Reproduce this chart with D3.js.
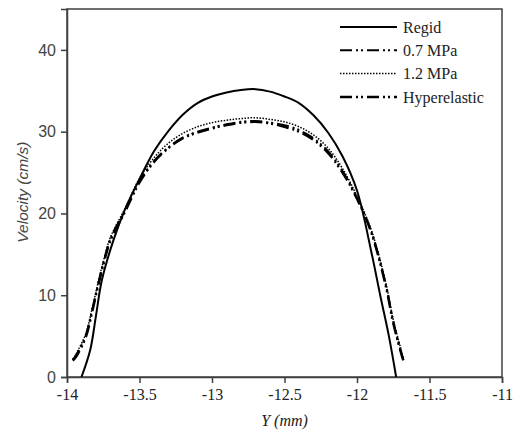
<!DOCTYPE html>
<meta charset="utf-8">
<title>Velocity profile</title>
<script src='https://d3js.org/d3.v7.min.js'></script>
<style>
body {
	margin: 0;
	background: #fff;
}
</style>
<body>
<script>
// Y (mm) positions and velocities (cm/s)
const rigidX = [-13.9, -13.84, -13.8, -13.76, -13.68, -13.6, -13.5, -13.4, -13.3, -13.2, -13.1, -13.0, -12.9, -12.8, -12.7, -12.6, -12.5, -12.4, -12.3, -12.2, -12.1, -12.0, -11.9, -11.84, -11.78, -11.73];
const rigidY = [0, 3.3, 7.5, 11.8, 16.7, 20.5, 24.2, 27.6, 30.1, 32.1, 33.5, 34.3, 34.8, 35.1, 35.2, 34.9, 34.3, 33.5, 32.0, 29.9, 27.0, 22.8, 15.2, 10.0, 5.0, 0];

const elasticX = [-13.96, -13.94, -13.92, -13.87, -13.83, -13.79, -13.75, -13.7, -13.6, -13.5, -13.4, -13.3, -13.2, -13.1, -13.0, -12.9, -12.8, -12.7, -12.6, -12.5, -12.4, -12.3, -12.2, -12.1, -12.0, -11.9, -11.8, -11.75, -11.7, -11.68];
const mpa07Y = [2.1, 2.6, 3.2, 5.1, 7.9, 11.0, 13.9, 16.9, 20.4, 24.0, 26.4, 28.1, 29.3, 30.0, 30.5, 30.9, 31.2, 31.3, 31.1, 30.8, 30.2, 29.2, 27.6, 25.2, 21.9, 17.7, 11.2, 6.8, 3.3, 2.1];
const mpa12Y = [2.2, 2.7, 3.4, 5.3, 8.1, 11.2, 14.1, 17.1, 20.6, 24.3, 26.8, 28.6, 29.8, 30.6, 31.1, 31.4, 31.6, 31.7, 31.5, 31.2, 30.6, 29.6, 28.0, 25.5, 22.1, 17.9, 11.4, 7.0, 3.6, 2.2];
const hyperY = [2.0, 2.4, 3.0, 4.9, 7.7, 10.8, 13.7, 16.7, 20.2, 23.8, 26.3, 28.0, 29.2, 29.9, 30.4, 30.8, 31.1, 31.2, 31.0, 30.6, 30.0, 29.0, 27.4, 25.0, 21.8, 17.6, 11.0, 6.6, 3.2, 2.0];

const seriesNames = ['Regid', '0.7 MPa', '1.2 MPa', 'Hyperelastic'];
const xTicks = [-14, -13.5, -13, -12.5, -12, -11.5, -11];
const yTicks = [0, 10, 20, 30, 40];

const styles = [
	{ width: 2, dash: null },
	{ width: 2, dash: '12,4,2,3,2,4' },
	{ width: 1.5, dash: '1.5,1.5' },
	{ width: 2.5, dash: '12,4,2,3,2,4' },
];
const frameColor = '#404040';
const serif = 'Liberation Serif, Times New Roman, serif';
const sans = 'Liberation Sans, Arial, sans-serif';

const series = [
	d3.zip(rigidX, rigidY),
	d3.zip(elasticX, mpa07Y),
	d3.zip(elasticX, mpa12Y),
	d3.zip(elasticX, hyperY),
];

const width = 516;
const height = 430;
const margin = { top: 9, right: 14, bottom: 53, left: 67 };

const x = d3.scaleLinear()
	.domain([-14, -11])
	.range([margin.left, width - margin.right]);
const y = d3.scaleLinear()
	.domain([0, 45])
	.range([height - margin.bottom, margin.top]);

const svg = d3.select('body')
	.append('svg')
		.attr('width', width)
		.attr('height', height);

// Frame
svg.append('rect')
	.attr('x', x(-14))
	.attr('y', y(45))
	.attr('width', x(-11) - x(-14))
	.attr('height', y(0) - y(45))
	.attr('fill', 'none')
	.attr('stroke', frameColor)
	.attr('stroke-width', 1.5);

// Axes
const xAxis = svg.append('g')
	.attr('transform', `translate(0, ${y(0)})`)
	.call(d3.axisBottom(x).tickValues(xTicks).tickSize(6).tickPadding(6).tickFormat(d => String(d)));
xAxis.selectAll('.domain, line')
	.attr('stroke', frameColor)
	.attr('stroke-width', 1.5);
xAxis.selectAll('text')
	.attr('font-family', serif)
	.attr('font-size', 16)
	.attr('fill', '#222');

const yAxis = svg.append('g')
	.attr('transform', `translate(${x(-14)}, 0)`)
	.call(d3.axisLeft(y).tickValues(yTicks).tickSize(6).tickPadding(5));
yAxis.selectAll('.domain, line')
	.attr('stroke', frameColor)
	.attr('stroke-width', 1.5);
yAxis.selectAll('text')
	.attr('font-family', sans)
	.attr('font-size', 16)
	.attr('fill', '#444');

// Axis titles
svg.append('text')
	.attr('x', x(-12.5))
	.attr('y', 426)
	.attr('text-anchor', 'middle')
	.attr('font-family', serif)
	.attr('font-style', 'italic')
	.attr('font-size', 16)
	.attr('fill', '#222')
	.text('Y (mm)');
svg.append('text')
	.attr('transform', `translate(28, ${y(22.6)}) rotate(-90)`)
	.attr('text-anchor', 'middle')
	.attr('font-family', sans)
	.attr('font-style', 'italic')
	.attr('font-size', 15.5)
	.attr('fill', '#444')
	.text('Velocity (cm/s)');

// Curves
const line = d3.line()
	.x(d => x(d[0]))
	.y(d => y(d[1]))
	.curve(d3.curveCatmullRom);

svg.append('g')
	.selectAll('path')
	.data(series)
	.join('path')
		.attr('d', line)
		.attr('fill', 'none')
		.attr('stroke', '#000')
		.attr('stroke-width', (d, i) => styles[i].width)
		.attr('stroke-dasharray', (d, i) => styles[i].dash);

// Legend
const legend = svg.append('g')
	.selectAll('g')
	.data(seriesNames)
	.join('g')
		.attr('transform', (d, i) => `translate(340, ${27 + i * 23.3})`);
legend.append('line')
	.attr('x1', 0)
	.attr('x2', 57)
	.attr('stroke', '#000')
	.attr('stroke-width', (d, i) => styles[i].width)
	.attr('stroke-dasharray', (d, i) => styles[i].dash);
legend.append('text')
	.attr('x', 63)
	.attr('dy', '0.35em')
	.attr('font-family', serif)
	.attr('font-size', 16)
	.attr('fill', '#222')
	.text(d => d);
</script>
</body>
